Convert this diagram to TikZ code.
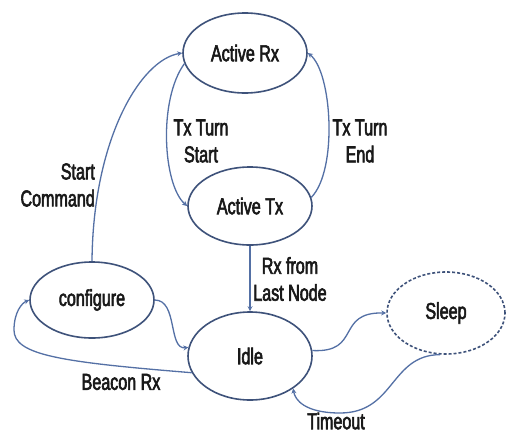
\documentclass[tikz,border=0pt]{standalone}
\usepackage{fontspec}
\setmainfont[FakeStretch=0.70,FakeBold=2.5]{Liberation Sans}
\usetikzlibrary{arrows.meta,shapes.geometric}
\definecolor{edgecol}{RGB}{62,82,122}
\definecolor{linecol}{RGB}{84,112,165}
\definecolor{txtcol}{RGB}{25,25,25}
\tikzset{
  state/.style={ellipse,draw=edgecol,line width=1.6pt,inner sep=0pt,text=txtcol,font=\fontsize{23}{27}\selectfont},
  conn/.style={draw=linecol,line width=1.3pt,-{Stealth[length=5pt,width=5pt]}},
  lbl/.style={text=txtcol,font=\fontsize{23}{27}\selectfont,inner sep=0pt,align=center}
}
\begin{document}
\begin{tikzpicture}[x=1pt,y=-1pt]
\useasboundingbox[fill=white] (0,0) rectangle (506,434);
\node[state,minimum width=124pt,minimum height=80pt] (arx) at (245,53) {Active Rx};
\node[state,minimum width=124pt,minimum height=78pt] (atx) at (250,206) {Active Tx};
\node[state,minimum width=124pt,minimum height=76pt] (cfg) at (92,300) {configure};
\node[state,minimum width=124pt,minimum height=88pt] (idle) at (250,356) {Idle};
\node[state,dashed,dash pattern=on 3pt off 2pt,minimum width=118pt,minimum height=82pt] (sleep) at (446,313) {Sleep};

\draw[conn] (cfg.north) .. controls (93,140) and (140,60) .. (arx.west);
\draw[conn] (arx.190) .. controls (158,100) and (163,185) .. (atx.west);
\draw[conn] (atx.8) .. controls (338,170) and (332,72) .. (arx.east);
\draw[conn] (atx.south) -- (idle.north);
\draw[conn] (cfg.east) .. controls (178,300) and (168,350) .. (idle.172);
\draw[conn] (idle.196) .. controls (60,362) and (14,355) .. (14,330) .. controls (14,312) and (22,303) .. (cfg.west);
\draw[conn] (idle.5) .. controls (362,353) and (335,312) .. (sleep.west);
\draw[conn] (sleep.262) .. controls (390,355) and (395,413) .. (340,413) .. controls (305,413) and (295,400) .. (idle.-37);

\node[lbl,align=right,anchor=east] (lsc) at (95,185) {Start\\Command};
\node[lbl] (lts) at (201,141) {Tx Turn\\Start};
\node[lbl] (lte) at (360,141) {Tx Turn\\End};
\node[lbl] (lrx) at (290,279) {Rx from\\Last Node};
\node[lbl] (lbr) at (121,382) {Beacon Rx};
\node[lbl] (lto) at (336,421) {Timeout};
\end{tikzpicture}
\end{document}
